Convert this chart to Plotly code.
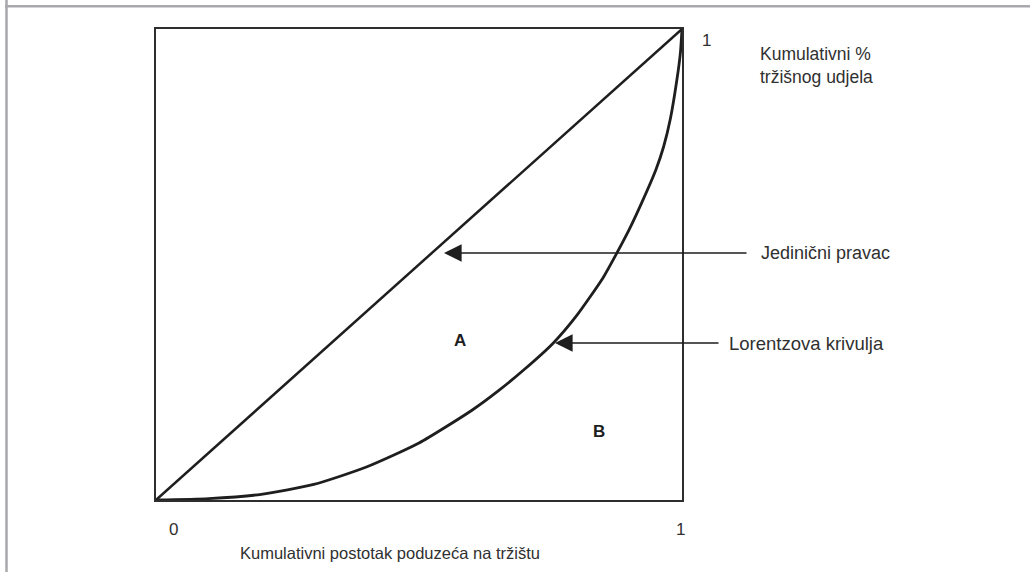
import plotly.graph_objects as go

# ---- data ----
equality_x = [0.0, 1.0]
equality_y = [0.0, 1.0]

lorenz_x = [0.0, 0.1, 0.2, 0.3, 0.4, 0.5, 0.6, 0.65, 0.7, 0.755, 0.8, 0.85, 0.876, 0.9, 0.925, 0.95, 0.965, 0.978, 0.99, 0.997, 1.0]
lorenz_y = [0.0, 0.003, 0.012, 0.033, 0.07, 0.121, 0.19, 0.231, 0.277, 0.333, 0.392, 0.472, 0.524, 0.575, 0.635, 0.70, 0.75, 0.81, 0.89, 0.95, 1.0]

tick_labels_x = ["0", "1"]
tick_label_y = "1"
x_title = "Kumulativni postotak poduzeća na tržištu"
y_title = "Kumulativni %<br>tržišnog udjela"
arrow_labels = ["Jedinični pravac", "Lorentzova krivulja"]
area_labels = ["A", "B"]

# ---- layout geometry (pixels) ----
W, H = 1030, 572
L, R, T, B = 156, 682, 29, 500


def xp(px):
    return (px - L) / (R - L)


def yp(py):
    return (B - py) / (B - T)


FONT = "Liberation Sans, Arial, sans-serif"
TXT = "#303030"


def label(px, py, text, size=16, xanchor="center", color=TXT, align="center"):
    return dict(x=xp(px), y=yp(py), xref="paper", yref="paper", text=text,
                showarrow=False, xanchor=xanchor, yanchor="middle", align=align,
                font=dict(size=size, color=color, family=FONT))


fig = go.Figure()
fig.add_trace(go.Scatter(x=equality_x, y=equality_y, mode="lines",
                         line=dict(color="#1e1e1e", width=2.5), hoverinfo="skip"))
fig.add_trace(go.Scatter(x=lorenz_x, y=lorenz_y, mode="lines",
                         line=dict(color="#1e1e1e", width=2.8, shape="spline", smoothing=0.6),
                         hoverinfo="skip"))

ann = []
# tick labels
ann.append(label(173, 529, tick_labels_x[0], size=17))
ann.append(label(680, 529, tick_labels_x[1], size=17))
ann.append(label(706, 40, tick_label_y, size=17))
# axis titles
ann.append(label(390, 553, x_title, size=16.5))
ann.append(label(758, 65, y_title, size=17.5, xanchor="left", align="left"))
# arrows
ann.append(dict(x=xp(444), y=yp(253), xref="paper", yref="paper", text="",
                showarrow=True, ax=748 - 444, ay=0, arrowhead=2, arrowsize=2.2,
                arrowwidth=1.6, arrowcolor="#1e1e1e"))
ann.append(dict(x=xp(555), y=yp(343), xref="paper", yref="paper", text="",
                showarrow=True, ax=720 - 555, ay=0, arrowhead=2, arrowsize=2.2,
                arrowwidth=1.6, arrowcolor="#1e1e1e"))
ann.append(label(759, 253, arrow_labels[0], size=18, xanchor="left"))
ann.append(label(727, 343, arrow_labels[1], size=18.5, xanchor="left"))
# area labels
ann.append(label(460, 340, "<b>" + area_labels[0] + "</b>", size=17, color="#1e1e1e"))
ann.append(label(599, 431, "<b>" + area_labels[1] + "</b>", size=17, color="#1e1e1e"))

shapes = [
    # outer frame (gray)
    dict(type="line", xref="paper", yref="paper", x0=xp(6.5), x1=xp(6.5), y0=yp(575), y1=yp(-3),
         line=dict(color="#a9a9ad", width=2.5)),
    dict(type="line", xref="paper", yref="paper", x0=xp(5), x1=xp(1033), y0=yp(6.2), y1=yp(6.2),
         line=dict(color="#a9a9ad", width=2.5)),
]

fig.update_layout(
    width=W, height=H,
    margin=dict(l=L, r=W - R, t=T, b=H - B, pad=0),
    paper_bgcolor="white", plot_bgcolor="white",
    showlegend=False,
    annotations=ann, shapes=shapes,
    xaxis=dict(range=[0, 1], showgrid=False, zeroline=False, showticklabels=False, ticks="",
               showline=True, mirror=True, linecolor="#2e2e2e", linewidth=1.8, fixedrange=True),
    yaxis=dict(range=[0, 1], showgrid=False, zeroline=False, showticklabels=False, ticks="",
               showline=True, mirror=True, linecolor="#2e2e2e", linewidth=1.8, fixedrange=True),
)

fig.write_html("out.html", config={"displayModeBar": False},
               post_script="document.body.style.margin='0';document.body.style.overflow='hidden';")
